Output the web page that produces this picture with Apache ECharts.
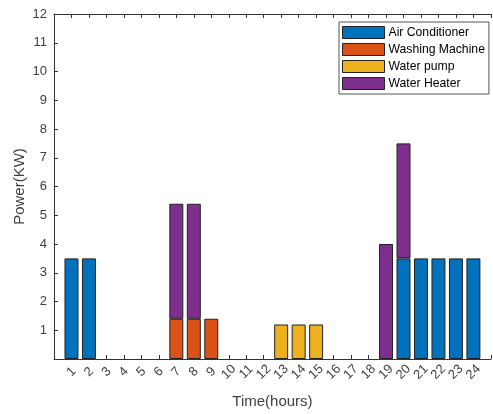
<!DOCTYPE html>
<html>
<head>
<meta charset="utf-8">
<script src="https://cdn.jsdelivr.net/npm/echarts@6/dist/echarts.min.js"></script>
<style>
  html, body { margin: 0; padding: 0; background: #fff; }
  #chart { width: 493px; height: 414px; }
</style>
</head>
<body>
<div id="chart"></div>
<script>
// hours 0..25 (0 and 25 are only the axis ends, like xlim [0 25])
const hours = ['0','1','2','3','4','5','6','7','8','9','10','11','12','13','14','15','16','17','18','19','20','21','22','23','24','25'];

// power per appliance (KW), '-' where the appliance is off
const airConditioner = ['-',3.5,3.5,'-','-','-','-','-','-','-','-','-','-','-','-','-','-','-','-','-',3.5,3.5,3.5,3.5,3.5,'-'];
const washingMachine = ['-','-','-','-','-','-','-',1.4,1.4,1.4,'-','-','-','-','-','-','-','-','-','-','-','-','-','-','-','-'];
const waterPump      = ['-','-','-','-','-','-','-','-','-','-','-','-','-',1.2,1.2,1.2,'-','-','-','-','-','-','-','-','-','-'];
const waterHeater    = ['-','-','-','-','-','-','-',4.0,4.0,'-','-','-','-','-','-','-','-','-','-',4.0,4.0,'-','-','-','-','-'];

const names = ['Air Conditioner', 'Washing Machine', 'Water pump', 'Water Heater'];
const colors = ['#0072BD', '#D95319', '#EDB120', '#7E2F8E'];
const values = [airConditioner, washingMachine, waterPump, waterHeater];

const chart = echarts.init(document.getElementById('chart'));

const textColor = '#404040';
const lineColor = '#333';

const option = {
    animation: false,
    grid: { left: 54, top: 14, right: -8, bottom: 52 },
    legend: {
        orient: 'vertical',
        left: 339,
        top: 22,
        padding: [4, 4, 4, 3],
        itemGap: 4,
        itemWidth: 42,
        itemHeight: 12,
        backgroundColor: '#fff',
        borderColor: '#555',
        borderWidth: 1,
        borderRadius: 0,
        icon: 'rect',
        itemStyle: { borderColor: '#222', borderWidth: 1 },
        textStyle: { fontFamily: 'Liberation Sans, Arial', fontSize: 12.2, color: '#000', lineHeight: 13, padding: [0, 0, 0, -1] },
        data: names
    },
    xAxis: [
        {
            type: 'category',
            data: hours,
            boundaryGap: false,
            name: 'Time(hours)',
            nameLocation: 'middle',
            nameGap: 35,
            nameMoveOverlap: false,
            nameTextStyle: { fontFamily: 'Liberation Sans, Arial', fontSize: 15, color: textColor },
            axisLine: { lineStyle: { color: lineColor, width: 1 } },
            axisTick: { inside: true, length: 4, lineStyle: { color: lineColor } },
            axisLabel: {
                rotate: 45,
                align: 'center',
                verticalAlign: 'middle',
                margin: 13,
                interval: 0,
                fontFamily: 'Liberation Sans, Arial',
                fontSize: 13,
                color: textColor,
                formatter: function (v) { return (v === '0' || v === '25') ? '' : v; }
            },
            splitLine: { show: false }
        },
        {
            type: 'category',
            data: hours,
            boundaryGap: false,
            position: 'top',
            axisLine: { lineStyle: { color: lineColor, width: 1 } },
            axisTick: { inside: true, length: 4, lineStyle: { color: lineColor } },
            axisLabel: { show: false },
            splitLine: { show: false }
        }
    ],
    yAxis: {
        type: 'value',
        min: 0,
        max: 12,
        interval: 1,
        name: 'Power(KW)',
        nameLocation: 'middle',
        nameGap: 27,
        nameMoveOverlap: false,
        nameTextStyle: { fontFamily: 'Liberation Sans, Arial', fontSize: 15, color: textColor },
        axisLine: { show: true, lineStyle: { color: lineColor, width: 1 } },
        axisTick: { show: true, inside: true, length: 4, lineStyle: { color: lineColor } },
        axisLabel: {
            margin: 7,
            fontFamily: 'Liberation Sans, Arial',
            fontSize: 13,
            color: textColor,
            formatter: function (v) { return v === 0 ? '' : v; }
        },
        splitLine: { show: false }
    },
    series: names.map(function (n, i) {
        return {
            name: n,
            type: 'bar',
            stack: 'power',
            barWidth: '80%',
            data: values[i],
            itemStyle: { color: colors[i], borderColor: '#222', borderWidth: 1 }
        };
    })
};

chart.setOption(option);
</script>
</body>
</html>
